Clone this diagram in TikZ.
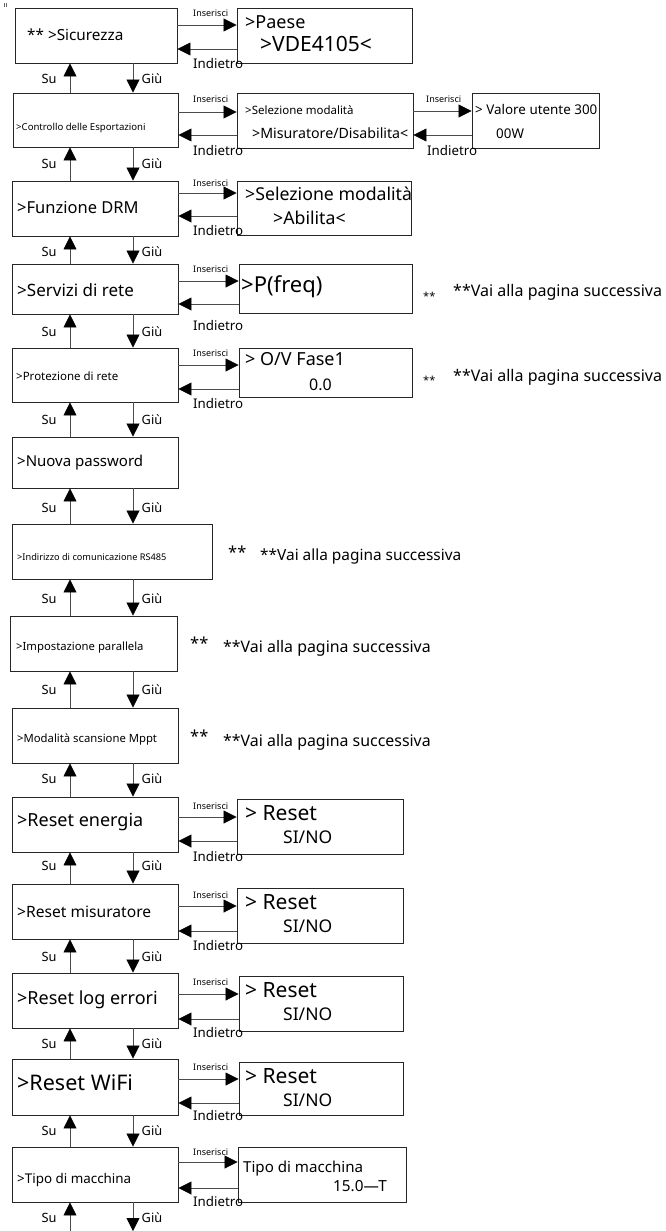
\documentclass[tikz,border=0pt]{standalone}
\usepackage{fontspec}
\setmainfont{Noto Sans}
\usetikzlibrary{arrows.meta,fit}
\newcommand\fsz[1]{\fontsize{#1}{#1}\selectfont}
% horizontal pair of arrows: left node, right node, y of "Inserisci", y of "Indietro"
\newcommand\enterback[4]{%
  \path (0,#3) coordinate (#1#2i) (0,#4) coordinate (#1#2b);
  \draw[arr] (#1.east |- #1#2i) -- (#2.west |- #1#2i);
  \draw[arr] (#2.west |- #1#2b) -- (#1.east |- #1#2b);
}
% vertical pair of arrows between two menu boxes, with labels at height #3
\newcommand\updown[3]{%
  \draw[arr] (#2.north -| xu) -- (#1.south -| xu);
  \draw[arr] (#1.south -| xd) -- (#2.north -| xd);
  \node[nav] (su#1) at (49,#3) {Su};
  \node[nav] (giu#1) at (152,#3) {Giù};
}
\begin{document}
\begin{tikzpicture}[x=1pt,y=-1pt,
  box/.style={draw=black!85, line width=0.9pt, inner sep=0pt},
  arr/.style={draw=black!70, line width=0.8pt, -{Triangle[length=13pt,width=13pt,color=black]}},
  txt/.style={inner sep=0pt, anchor=west, text height=0.72em, text depth=0pt},
  nav/.style={inner sep=0pt, anchor=center, text height=0.72em, text depth=0pt, font=\fsz{12.8}},
  ins/.style={txt, font=\fsz{9}},
  back/.style={txt, font=\fsz{13.3}},
  nxt/.style={txt, font=\fsz{16}}]
\useasboundingbox (0,0) rectangle (665,1231);
\coordinate (xu) at (70,0);
\coordinate (xd) at (133,0);

% small mark in the corner
\draw[black!60, line width=0.5pt] (4,3) coordinate (c1) -- (4,7) (6,3) -- (6,7);

% ---- main menu column ----
\node[box, fit={(15,8) (177,63)}] (m1) {};
\node[txt, font=\fsz{15.3}] (m1t) at (27,37) {** >Sicurezza};
\node[box, fit={(13,93) (178,147)}] (m2) {};
\node[txt, font=\fsz{9.6}] (m2t) at (16,127) {>Controllo delle Esportazioni};
\node[box, fit={(12,181) (178,236)}] (m3) {};
\node[txt, font=\fsz{16.5}] (m3t) at (17,210) {>Funzione DRM};
\node[box, fit={(12,264) (178,314)}] (m4) {};
\node[txt, font=\fsz{17}] (m4t) at (17,293) {>Servizi di rete};
\node[box, fit={(12,348) (178,402)}] (m5) {};
\node[txt, font=\fsz{11.5}] (m5t) at (16,377) {>Protezione di rete};
\node[box, fit={(12,437) (178,488)}] (m6) {};
\node[txt, font=\fsz{15}] (m6t) at (17,463) {>Nuova password};
\node[box, fit={(12,524) (212,579)}] (m7) {};
\node[txt, font=\fsz{9.2}] (m7t) at (17,557) {>Indirizzo di comunicazione RS485};
\node[box, fit={(10,616) (177,671)}] (m8) {};
\node[txt, font=\fsz{11.3}] (m8t) at (16,647) {>Impostazione parallela};
\node[box, fit={(12,708) (178,763)}] (m9) {};
\node[txt, font=\fsz{11.3}] (m9t) at (17,739) {>Modalità scansione Mppt};
\node[box, fit={(12,797) (178,852)}] (m10) {};
\node[txt, font=\fsz{18}] (m10t) at (17,823) {>Reset energia};
\node[box, fit={(12,884) (178,939)}] (m11) {};
\node[txt, font=\fsz{15.6}] (m11t) at (17,914) {>Reset misuratore};
\node[box, fit={(12,973) (178,1028)}] (m12) {};
\node[txt, font=\fsz{18}] (m12t) at (17,1001) {>Reset log errori};
\node[box, fit={(12,1059) (178,1115)}] (m13) {};
\node[txt, font=\fsz{21.5}] (m13t) at (17,1087) {>Reset WiFi};
\node[box, fit={(12,1147) (178,1202)}] (m14) {};
\node[txt, font=\fsz{13.4}] (m14t) at (17,1180) {>Tipo di macchina};

% ---- sub-menu boxes ----
\node[box, fit={(237,8) (412,63)}] (r1) {};
\node[txt, font=\fsz{18}] (r1a) at (245,25) {>Paese};
\node[txt, font=\fsz{21}] (r1b) at (260,48) {>VDE4105<};
\node[box, fit={(237,93) (413,148)}] (r2) {};
\node[txt, font=\fsz{11.5}] (r2a) at (245,111) {>Selezione modalità};
\node[txt, font=\fsz{14.2}] (r2b) at (252,135) {>Misuratore/Disabilita<};
\node[box, fit={(472,93) (599,148)}] (r2v) {};
\node[txt, font=\fsz{13.4}] (r2va) at (475,111) {> Valore utente 300};
\node[txt, font=\fsz{13.4}] (r2vb) at (496,135) {00W};
\node[box, fit={(237,181) (411,235)}] (r3) {};
\node[txt, font=\fsz{17.7}] (r3a) at (245,197) {>Selezione modalità};
\node[txt, font=\fsz{17.7}] (r3b) at (273,221) {>Abilita<};
\node[box, fit={(239,264) (412,313)}] (r4) {};
\node[txt, font=\fsz{22}] (r4a) at (241,289) {>P(freq)};
\node[box, fit={(239,348) (412,397)}] (r5) {};
\node[txt, font=\fsz{18}] (r5a) at (245,362) {> O/V Fase1};
\node[txt, font=\fsz{16}] (r5b) at (309,387) {0.0};
\node[box, fit={(237,799) (403,854)}] (r10) {};
\node[txt, font=\fsz{21}] (r10a) at (245,817) {> Reset};
\node[txt, font=\fsz{17.5}] (r10b) at (283,840) {SI/NO};
\node[box, fit={(237,888) (403,943)}] (r11) {};
\node[txt, font=\fsz{21}] (r11a) at (245,906) {> Reset};
\node[txt, font=\fsz{17.5}] (r11b) at (283,929) {SI/NO};
\node[box, fit={(239,976) (403,1031)}] (r12) {};
\node[txt, font=\fsz{21}] (r12a) at (245,994) {> Reset};
\node[txt, font=\fsz{17.5}] (r12b) at (283,1017) {SI/NO};
\node[box, fit={(239,1062) (403,1115)}] (r13) {};
\node[txt, font=\fsz{21}] (r13a) at (245,1080) {> Reset};
\node[txt, font=\fsz{17.5}] (r13b) at (283,1103) {SI/NO};
\node[box, fit={(238,1147) (406,1202)}] (r14) {};
\node[txt, font=\fsz{15.1}] (r14a) at (243,1169) {Tipo di macchina};
\node[txt, font=\fsz{15.3}] (r14b) at (333,1188) {15.0—T};

% ---- enter / back arrows ----
\enterback{m1}{r1}{25}{49}
\enterback{m2}{r2}{112}{135}
\enterback{r2}{r2v}{111}{135}
\enterback{m3}{r3}{193}{216}
\enterback{m4}{r4}{281}{304}
\enterback{m5}{r5}{365}{389}
\enterback{m10}{r10}{817}{841}
\enterback{m11}{r11}{906}{931}
\enterback{m12}{r12}{994}{1019}
\enterback{m13}{r13}{1079}{1103}
\enterback{m14}{r14}{1162}{1188}

\node[ins] (i1) at (193,13) {Inserisci};
\node[back] (b1) at (193,65) {Indietro};
\node[ins] (i2) at (193,99) {Inserisci};
\node[back] (b2) at (193,152) {Indietro};
\node[ins] (i2v) at (426,99) {Inserisci};
\node[back] (b2v) at (427,152) {Indietro};
\node[ins] (i3) at (193,183) {Inserisci};
\node[back] (b3) at (193,232) {Indietro};
\node[ins] (i4) at (193,269) {Inserisci};
\node[back] (b4) at (193,327) {Indietro};
\node[ins] (i5) at (193,353) {Inserisci};
\node[back] (b5) at (193,405) {Indietro};
\node[ins] (i10) at (193,806) {Inserisci};
\node[back] (b10) at (193,858) {Indietro};
\node[ins] (i11) at (193,895) {Inserisci};
\node[back] (b11) at (193,947) {Indietro};
\node[ins] (i12) at (193,982) {Inserisci};
\node[back] (b12) at (193,1034) {Indietro};
\node[ins] (i13) at (193,1067) {Inserisci};
\node[back] (b13) at (193,1117) {Indietro};
\node[ins] (i14) at (193,1152) {Inserisci};
\node[back] (b14) at (193,1203) {Indietro};

% ---- up / down arrows ----
\updown{m1}{m2}{80}
\updown{m2}{m3}{165}
\updown{m3}{m4}{253}
\updown{m4}{m5}{333}
\updown{m5}{m6}{421}
\updown{m6}{m7}{509}
\updown{m7}{m8}{600}
\updown{m8}{m9}{691}
\updown{m9}{m10}{780}
\updown{m10}{m11}{867}
\updown{m11}{m12}{958}
\updown{m12}{m13}{1045}
\updown{m13}{m14}{1132}
\coordinate (endu) at (70,1231);
\coordinate (endd) at (133,1231);
\draw[arr] (endu) -- (m14.south -| xu);
\draw[arr] (m14.south -| xd) -- (endd);
\node[nav] (su14) at (49,1219) {Su};
\node[nav] (giu14) at (152,1219) {Giù};

% ---- continuation notes ----
\node[txt, font=\fsz{11}] (s4) at (423,297) {**};
\node[nxt] (n4) at (453,293) {**Vai alla pagina successiva};
\node[txt, font=\fsz{11}] (s5) at (423,381) {**};
\node[nxt] (n5) at (453,378) {**Vai alla pagina successiva};
\node[txt, font=\fsz{16.5}] (s7) at (228,555) {**};
\node[nxt, font=\fsz{15.4}] (n7) at (260,557) {**Vai alla pagina successiva};
\node[txt, font=\fsz{16.5}] (s8) at (190,646) {**};
\node[nxt, font=\fsz{15.9}] (n8) at (223,649) {**Vai alla pagina successiva};
\node[txt, font=\fsz{16.5}] (s9) at (190,739) {**};
\node[nxt, font=\fsz{15.9}] (n9) at (223,743) {**Vai alla pagina successiva};
\end{tikzpicture}
\end{document}
